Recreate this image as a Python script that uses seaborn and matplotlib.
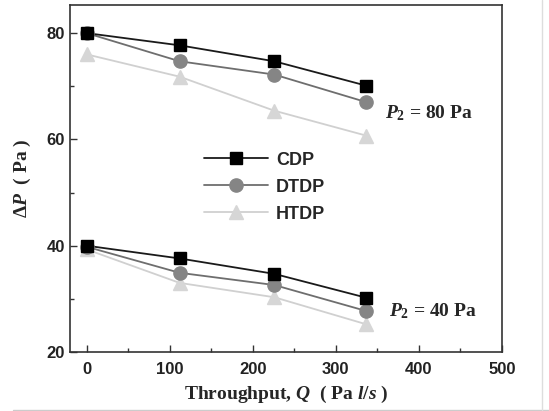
import matplotlib
matplotlib.use("Agg")
import matplotlib.pyplot as plt
from matplotlib.lines import Line2D
import numpy as np
import pandas as pd
import seaborn as sns

# Throughput (Pa l/s) and pressure drop (Pa) for the three pump designs
throughput = [0, 112, 226, 337]
methods = ["CDP", "DTDP", "HTDP"]

cdp_80 = [80.0, 77.7, 74.7, 70.1]
dtdp_80 = [80.0, 74.7, 72.2, 67.0]
htdp_80 = [76.0, 71.8, 65.4, 60.7]

cdp_40 = [40.0, 37.6, 34.7, 30.2]
dtdp_40 = [39.8, 34.9, 32.6, 27.7]
htdp_40 = [39.3, 33.0, 30.3, 25.2]

series = {
    ("CDP", "80"): cdp_80, ("DTDP", "80"): dtdp_80, ("HTDP", "80"): htdp_80,
    ("CDP", "40"): cdp_40, ("DTDP", "40"): dtdp_40, ("HTDP", "40"): htdp_40,
}
rows = []
for (m, p2), vals in series.items():
    for q, dp in zip(throughput, vals):
        rows.append({"method": m, "p2": p2, "Q": q, "dP": dp})
df = pd.DataFrame(rows)

sns.set_theme(style="ticks")
plt.rcParams["font.family"] = ["Liberation Sans", "DejaVu Sans"]
plt.rcParams["mathtext.fontset"] = "custom"
plt.rcParams["mathtext.rm"] = "Liberation Serif:bold"
plt.rcParams["mathtext.it"] = "Liberation Serif:bold:italic"
plt.rcParams["mathtext.bf"] = "Liberation Serif:bold"

marker_colors = {"CDP": "#000000", "DTDP": "#858585", "HTDP": "#d6d6d6"}
line_colors = {"CDP": "#1a1a1a", "DTDP": "#6e6e6e", "HTDP": "#d0d0d0"}
markers = {"CDP": "s", "DTDP": "o", "HTDP": "^"}
msizes = {"CDP": 9, "DTDP": 9.5, "HTDP": 10}

fig = plt.figure(figsize=(5.49, 4.11), dpi=100)
ax = fig.add_axes([0.1275, 0.1436, 0.7865, 0.8444])

# lighter series first so darker ones sit on top
for m in ["HTDP", "DTDP", "CDP"]:
    for p2 in ["40", "80"]:
        sub = df[(df.method == m) & (df.p2 == p2)]
        sns.lineplot(data=sub, x="Q", y="dP", ax=ax, color=line_colors[m],
                     linewidth=1.3, estimator=None, legend=False, zorder=2)
        ax.plot(sub["Q"], sub["dP"], linestyle="none", marker=markers[m],
                markersize=msizes[m], color=marker_colors[m], zorder=3)

ax.set_xlim(-20, 500)
ax.set_ylim(20, 85.3)
ax.set_xticks([0, 100, 200, 300, 400, 500])
ax.set_xticks([50, 150, 250, 350, 450], minor=True)
ax.set_yticks([20, 40, 60, 80])
ax.set_yticks([30, 50, 70], minor=True)
ax.tick_params(axis="both", which="both", direction="in", colors="#333333",
               labelcolor="#222222")
ax.tick_params(axis="both", which="major", length=5, width=1.0, labelsize=12)
ax.tick_params(axis="both", which="minor", length=3, width=1.0)
ax.tick_params(axis="x", pad=7)
for lab in ax.get_xticklabels() + ax.get_yticklabels():
    lab.set_fontweight("bold")
for s in ax.spines.values():
    s.set_linewidth(1.2)
    s.set_color("#333333")

ax.set_xlabel(r"Throughput, $Q$  ( Pa $l/s$ )", fontsize=14,
              fontfamily="Liberation Serif", fontweight="bold", labelpad=5)
ax.set_ylabel(r"$\mathit{Δ}P$  ( Pa )", fontsize=14,
              fontfamily="Liberation Serif", fontweight="bold", labelpad=10)

ax.text(359, 64.9, r"$P_2$ = 80 Pa", fontsize=14,
        fontfamily="Liberation Serif", fontweight="bold", va="center", ha="left")
ax.text(364, 27.7, r"$P_2$ = 40 Pa", fontsize=14,
        fontfamily="Liberation Serif", fontweight="bold", va="center", ha="left")

handles = [Line2D([0], [0], color=line_colors[m], linewidth=1.3, marker=markers[m],
                  markersize=msizes[m], markerfacecolor=marker_colors[m],
                  markeredgecolor=marker_colors[m]) for m in methods]
leg = ax.legend(handles, methods, loc="center left", bbox_to_anchor=(0.31, 0.475),
                frameon=False, borderaxespad=0, borderpad=0,
                handlelength=3.55, handletextpad=0.45, labelspacing=0.55,
                prop={"family": "Liberation Sans", "weight": "bold", "size": 13})

# thin page edge lines
fig.add_artist(Line2D([0.0237, 1.0], [0.003, 0.003], color="#cccccc", linewidth=1.0,
                      transform=fig.transFigure))
fig.add_artist(Line2D([0.988, 0.988], [0.003, 1.0], color="#dddddd", linewidth=1.0,
                      transform=fig.transFigure))

fig.savefig("out.png", dpi=100, facecolor="white")
